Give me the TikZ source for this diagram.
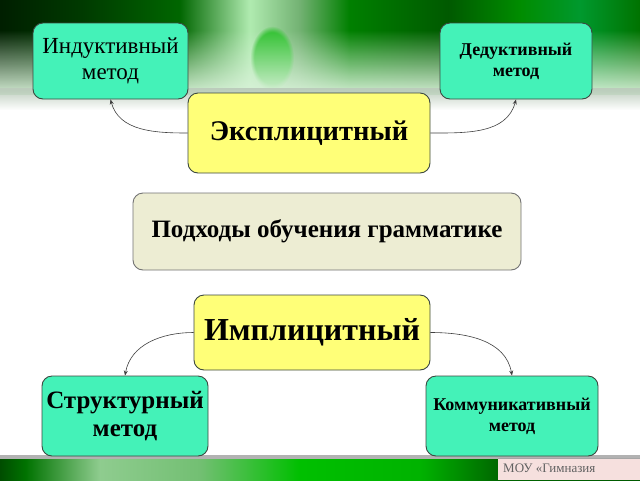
\documentclass[tikz,border=0pt]{standalone}
\usepackage{fontspec}
\setmainfont{Liberation Serif}
\usetikzlibrary{fadings,arrows.meta}
\definecolor{teal1}{RGB}{68,242,184}
\definecolor{yel}{RGB}{255,255,120}
\definecolor{beige}{RGB}{237,237,211}
\definecolor{bord}{RGB}{60,72,64}
\definecolor{pinkbox}{RGB}{246,224,222}
\pgfdeclarehorizontalshading{topband}{100bp}{
  color(0bp)=(black!88!green);
  color(25bp)=(black!88!green);
  color(31bp)=(black!78!green);
  color(39bp)=(green!40!black);
  color(44.5bp)=(green!25!white!92!black);
  color(48.4bp)=(green!45!black!55!white);
  color(52.3bp)=(green!50!black);
  color(60bp)=(green!35!black);
  color(65.6bp)=(green!55!black);
  color(70.3bp)=(cyan!30!green!60!black);
  color(75bp)=(green!45!black);
  color(100bp)=(green!45!black)}
\pgfdeclarehorizontalshading{botband}{100bp}{
  color(0bp)=(green!30!black);
  color(25bp)=(green!30!black);
  color(27bp)=(green!45!black);
  color(32.8bp)=(green!30!white!80!black);
  color(40.6bp)=(green!40!white!75!black);
  color(48.4bp)=(green!75!black);
  color(57.8bp)=(green!70!black);
  color(64bp)=(green!40!black);
  color(75bp)=(green!35!black);
  color(100bp)=(green!35!black)}
\begin{document}
\begin{tikzpicture}[x=1pt,y=-1pt,
  box/.style={draw=bord, line width=0.9pt, rounded corners=10pt, align=center,
    font=\bfseries, inner sep=2pt},
  meth/.style={box, fill=teal1},
  mid/.style={box, fill=yel},
  conn/.style={draw=black!75, line width=0.6pt, -{Stealth[length=5pt,width=4pt]}}]
\useasboundingbox (0,0) rectangle (640,480);
\fill[white] (0,0) rectangle (640,480);
% top banner
\shade[shading=topband] (0,0) rectangle (640,95);
\fill[green!70!black!80!white, path fading=circle with fuzzy edge 20 percent] (272,58) ellipse (22 and 32);
\fill[white!90!green!95!black, path fading=north] (0,30) rectangle (640,96);
\fill[white] (0,95) rectangle (640,110);
\fill[white!92!green!80!black, path fading=south] (0,88) rectangle (640,110);
% bottom banner
\fill[black!30] (0,455) rectangle (640,459);
\shade[shading=botband] (0,459) rectangle (640,480);
\fill[pinkbox] (498,458) rectangle (640,480);
\draw[black!35, line width=0.8pt] (498,458.5) -- (640,458.5);
\node[anchor=base west, font=\fontsize{13}{15}\selectfont, text=black!62, inner sep=0pt] (moy) at (503,472) {МОУ «Гимназия};
% nodes
\node[meth, minimum width=155pt, minimum height=76pt, font=\fontsize{23}{26}\selectfont] (ind) at (110.5,61) {Индуктивный\\метод};
\node[meth, minimum width=152pt, minimum height=76pt, font=\bfseries\fontsize{18}{21}\selectfont] (ded) at (516,61) {Дедуктивный\\метод};
\node[mid, minimum width=242pt, minimum height=80pt, font=\bfseries\fontsize{28.5}{32}\selectfont] (exp) at (309,133) {\raisebox{-3pt}{Эксплицитный}};
\node[box, fill=beige, draw=black!55, minimum width=388pt, minimum height=77pt, font=\bfseries\fontsize{25}{28}\selectfont] (pod) at (327,231.5) {Подходы обучения грамматике};
\node[mid, minimum width=236pt, minimum height=75pt, font=\bfseries\fontsize{32}{36}\selectfont] (imp) at (312,332.5) {Имплицитный};
\node[meth, minimum width=166pt, minimum height=80pt, font=\bfseries\fontsize{25}{28}\selectfont] (str) at (125,416) {Структурный\\метод};
\node[meth, minimum width=172pt, minimum height=80pt, font=\bfseries\fontsize{18}{21}\selectfont] (kom) at (512,416) {Коммуникативный\\метод};
% connectors
\draw[conn] (exp.west) to[out=180,in=-75] (ind.south);
\draw[conn] (exp.east) to[out=0,in=-105] (ded.south);
\draw[conn] (imp.west) to[out=180,in=80] (str.north);
\draw[conn] (imp.east) to[out=0,in=100] (kom.north);
\end{tikzpicture}
\end{document}
